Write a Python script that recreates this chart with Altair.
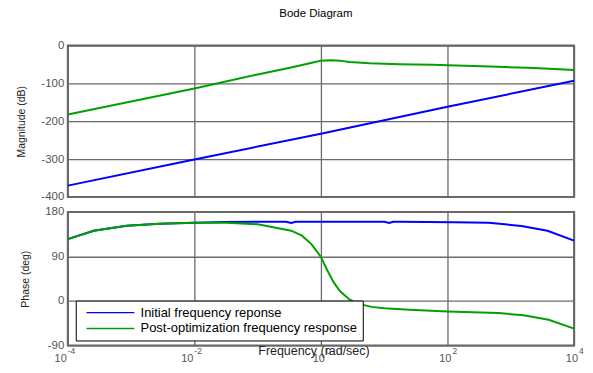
import altair as alt
import pandas as pd

FONT = "Liberation Sans"
SERIES = ["Initial frequency reponse", "Post-optimization frequency response"]
COLORS = ["#0000ff", "#00a000"]

# Magnitude (dB) against log10(frequency)
mag_init_logw = [-4, -2, 0, 2, 4]
mag_init_db = [-370, -301, -233, -162, -93]
mag_post_logw = [-4, -2, -1, -0.47, -0.16, 0, 0.15, 0.3, 0.45, 0.77, 1.24, 1.76, 2.0, 2.28, 2.8, 3.27, 3.69, 4]
mag_post_db = [-182, -113.5, -76.5, -58, -46, -40, -39, -40, -43.5, -47, -49.4, -51, -52, -53.7, -56.3, -59, -62.3, -65]

# Phase (deg) against log10(frequency)
ph_init_logw = [-4, -3.59, -3.07, -2.55, -2, -1.5, -1, -0.55, -0.47, -0.4, 0, 1.0, 1.08, 1.14, 1.25, 2.1, 2.65, 3.17, 3.58, 4]
ph_init_deg = [125, 142, 152, 156, 158.3, 159.6, 160, 160, 157.5, 160, 160, 160, 157.5, 160, 160, 159, 158, 151.7, 141.8, 122]
ph_post_logw = [-4, -3.59, -3.07, -2.55, -2, -1.5, -1, -0.47, -0.3, -0.15, 0, 0.1, 0.2, 0.3, 0.45, 0.6, 0.8, 1.0, 1.4, 2.0, 2.8, 3.2, 3.6, 4]
ph_post_deg = [125, 142, 152, 156, 158, 158, 155, 142, 132, 115, 89, 62, 38, 20, 3, -6, -12, -15, -18, -21.5, -24.5, -29, -38, -56]

tick_exps = [-4, -2, 0, 2, 4]
mag_ticks = [-400, -300, -200, -100, 0]
ph_ticks = [-90, 0, 90, 180]


def frame(logw, vals, name, col):
    return pd.DataFrame({"w": [10.0 ** v for v in logw], col: vals, "series": name})


mag = pd.concat([frame(mag_init_logw, mag_init_db, SERIES[0], "db"),
                 frame(mag_post_logw, mag_post_db, SERIES[1], "db")])
ph = pd.concat([frame(ph_init_logw, ph_init_deg, SERIES[0], "deg"),
                frame(ph_post_logw, ph_post_deg, SERIES[1], "deg")])
ticks = pd.DataFrame({"w": [10.0 ** e for e in tick_exps],
                      "base": ["10"] * len(tick_exps),
                      "exp": [str(e) for e in tick_exps],
                      "neg": [e < 0 for e in tick_exps]})

W = 508
H_TOP = 152
H_BOT = 134
GRID = "#6a6a6a"
LABEL = "#555555"
color_scale = alt.Scale(domain=SERIES, range=COLORS)
x_scale = alt.Scale(type="log", domain=[1e-4, 1e4], nice=False)
x_axis = alt.Axis(values=[10.0 ** e for e in tick_exps], labels=False, ticks=False,
                  domain=False, grid=True, gridColor=GRID, gridWidth=1.3, title=None)


def y_axis(values, title, tx):
    return alt.Axis(values=values, labelExpr="'' + datum.value", title=title,
                    domain=False, ticks=False, grid=True, gridColor=GRID, gridWidth=1.3,
                    labelPadding=4, labelFontSize=11.5, labelColor=LABEL,
                    titleFontSize=10.5, titleColor="#222222", titleFontWeight="normal",
                    titleX=tx, titleBaseline="middle")


top_lines = alt.Chart(mag).mark_line(strokeWidth=2).encode(
    x=alt.X("w:Q", scale=x_scale, axis=x_axis),
    y=alt.Y("db:Q", scale=alt.Scale(domain=[-400, 0], nice=False),
            axis=y_axis(mag_ticks, "Magnitude (dB)", -46.6)),
    color=alt.Color("series:N", scale=color_scale, legend=None),
    order=alt.Order("w:Q"),
)
title_mark = alt.Chart(pd.DataFrame({"t": ["Bode Diagram"]})).mark_text(
    fontSize=11.5, color="black", baseline="middle", align="center"
).encode(text="t:N", x=alt.value(249), y=alt.value(-32))

top = alt.layer(top_lines, title_mark).properties(width=W, height=H_TOP)

bottom_lines = alt.Chart(ph).mark_line(strokeWidth=2).encode(
    x=alt.X("w:Q", scale=x_scale, axis=x_axis),
    y=alt.Y("deg:Q", scale=alt.Scale(domain=[-90, 180], nice=False),
            axis=y_axis(ph_ticks, "Phase (deg)", -42.3)),
    color=alt.Color("series:N", scale=color_scale, legend=alt.Legend(
        orient="none", legendX=8, legendY=89, title=None,
        symbolType="M-0.2,0H7.8", symbolSize=144, symbolStrokeWidth=1.3,
        labelOffset=46, labelFontSize=13, labelColor="black", labelLimit=0,
        strokeColor="black", fillColor="white", padding=5, rowPadding=2,
    )),
    order=alt.Order("w:Q"),
)

tick_base = alt.Chart(ticks)
neg_base = tick_base.transform_filter("datum.neg").mark_text(
    fontSize=11, color=LABEL, align="right", baseline="middle", dx=-1
).encode(x=alt.X("w:Q", scale=x_scale), y=alt.value(148), text="base:N")
neg_exp = tick_base.transform_filter("datum.neg").mark_text(
    fontSize=8.5, color=LABEL, align="left", baseline="middle", dx=0
).encode(x=alt.X("w:Q", scale=x_scale), y=alt.value(140), text="exp:N")
pos_base = tick_base.transform_filter("!datum.neg").mark_text(
    fontSize=11, color=LABEL, align="right", baseline="middle", dx=4
).encode(x=alt.X("w:Q", scale=x_scale), y=alt.value(148), text="base:N")
pos_exp = tick_base.transform_filter("!datum.neg").mark_text(
    fontSize=8.5, color=LABEL, align="left", baseline="middle", dx=5
).encode(x=alt.X("w:Q", scale=x_scale), y=alt.value(140), text="exp:N")

xlabel = alt.Chart(pd.DataFrame({"t": ["Frequency  (rad/sec)"]})).mark_text(
    fontSize=12.5, color="#222222", baseline="middle", align="center"
).encode(text="t:N", x=alt.value(247), y=alt.value(140))

bottom = alt.layer(bottom_lines, neg_base, neg_exp, pos_base, pos_exp, xlabel).properties(
    width=W, height=H_BOT)

chart = alt.vconcat(top, bottom, spacing=15, bounds="flush").resolve_scale(
    color="independent").resolve_legend(color="independent").properties(
    padding={"left": 7, "top": -2, "right": 0, "bottom": 0}
).configure_view(stroke="#666666", strokeWidth=2).configure_axis(
    labelFont=FONT, titleFont=FONT).configure_text(font=FONT).configure_legend(
    labelFont=FONT)

chart.save("out.html", embed_options={"renderer": "svg", "actions": False})
